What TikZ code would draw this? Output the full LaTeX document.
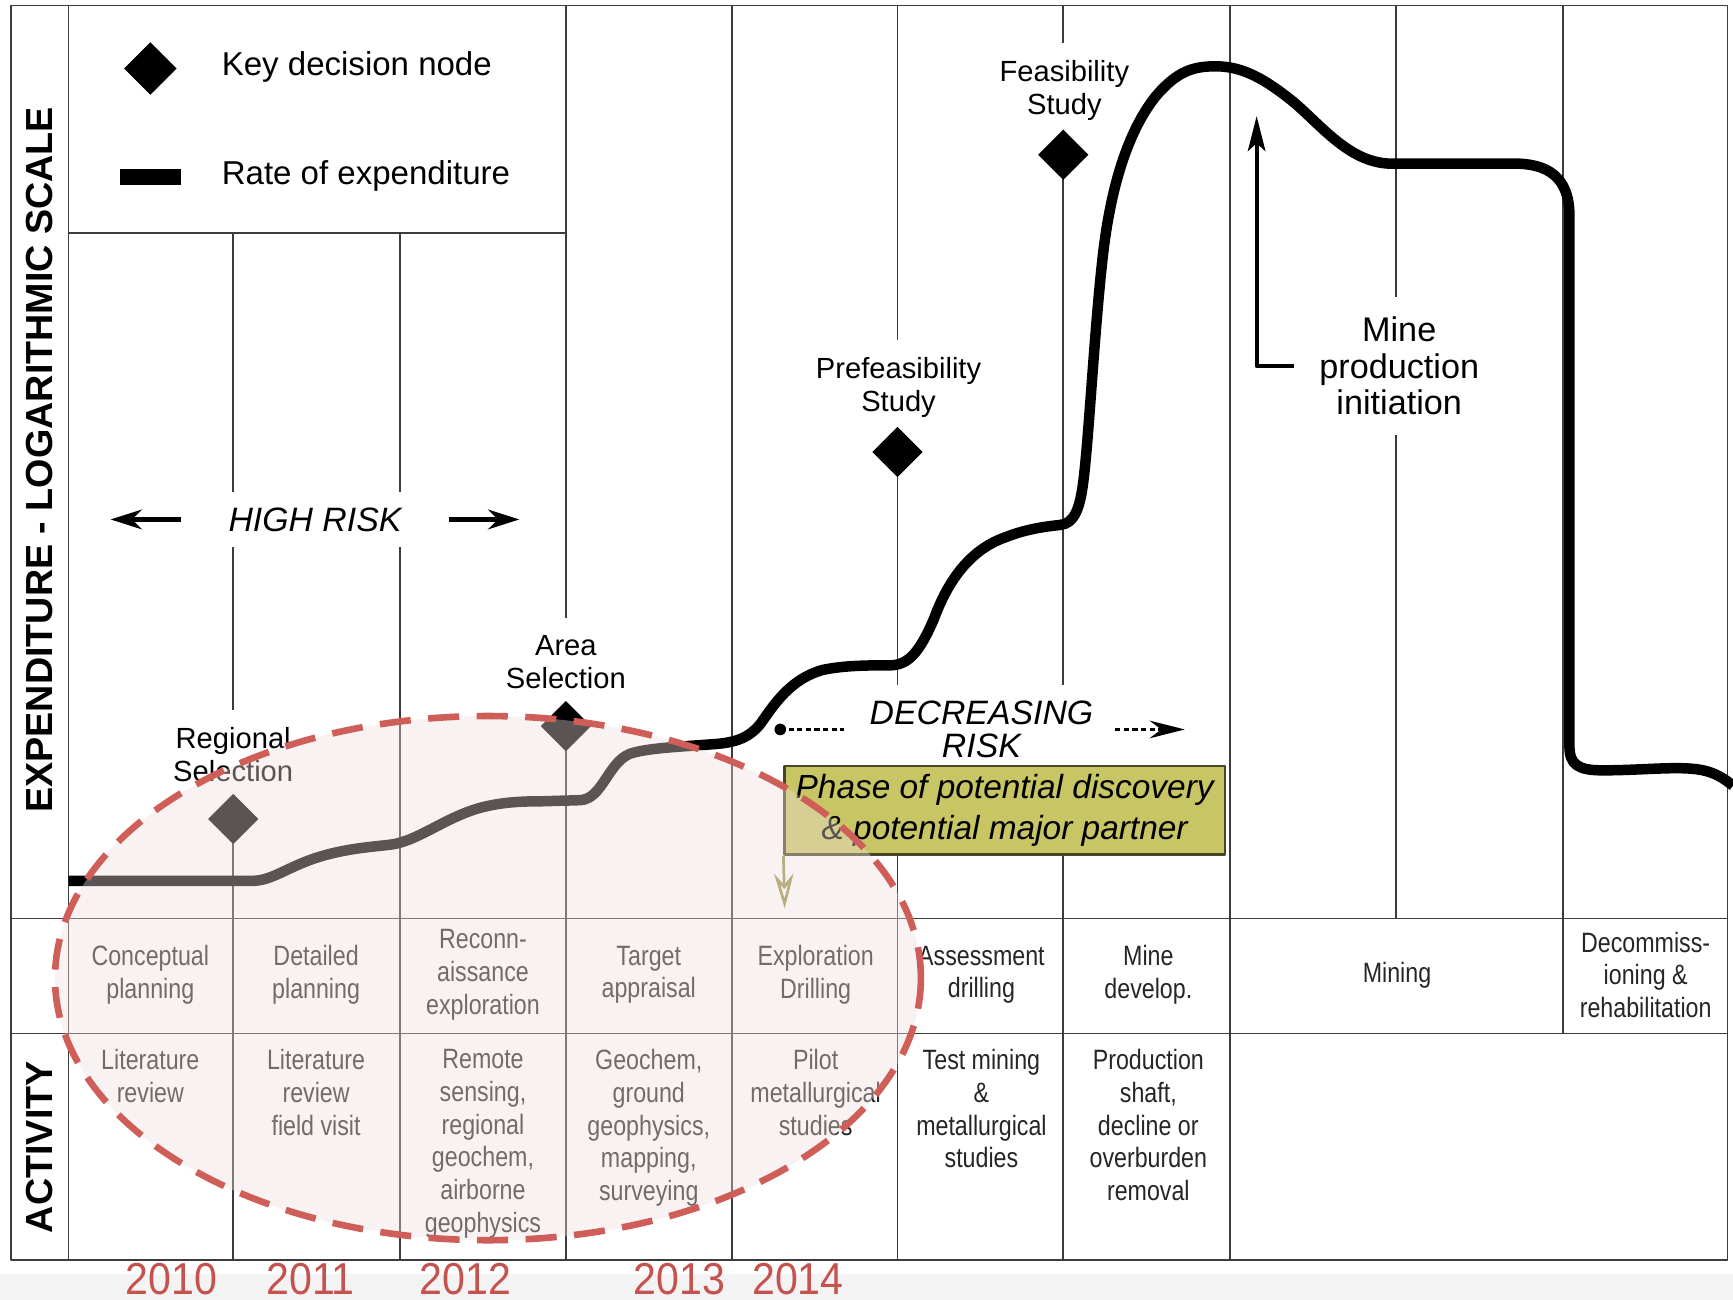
\documentclass[tikz,border=0pt]{standalone}
\usepackage{fontspec}
\setmainfont{Liberation Sans}
\newfontfamily\narrowfont{Liberation Sans}[FakeStretch=0.83]
\newfontfamily\yearfont{Liberation Sans}[FakeStretch=0.92]
\usetikzlibrary{shapes.geometric,arrows.meta}
\definecolor{gridgray}{RGB}{60,60,60}
\definecolor{stripgray}{RGB}{243,243,243}
\definecolor{ovalred}{RGB}{208,94,88}
\definecolor{ovalfill}{RGB}{239,221,221}
\definecolor{yearred}{RGB}{197,82,78}
\definecolor{phaseyellow}{RGB}{199,197,100}
\definecolor{phaseedge}{RGB}{70,70,35}
\begin{document}
\begin{tikzpicture}[x=0.01cm, y=-0.01cm, line join=round,
	grid/.style={gridgray, line width=0.45pt},
	keynode/.style={diamond, fill=black, inner sep=0pt, minimum size=4.6mm},
	milestone/.style={fill=white, align=center, inner xsep=2pt, inner ysep=4.5pt, font=\fontsize{7.5}{8.5}\selectfont},
	cell/.style={align=center, text=black!85, inner sep=2pt, font=\narrowfont\fontsize{7.2}{8.4}\selectfont},
	risk/.style={fill=white, align=center, inner xsep=3pt, inner ysep=4pt, font=\itshape\fontsize{8.7}{8.6}\selectfont},
	riskarrow/.style={line width=1.5pt, -{Stealth[length=8pt,width=5pt,inset=2.5pt]}},
	spend/.style={line width=2.7pt},
	axislabel/.style={rotate=90, font=\bfseries\fontsize{9.7}{10}\selectfont},
	phasebox/.style={draw=phaseedge, fill=phaseyellow, line width=0.6pt, minimum width=3.98cm, minimum height=0.8cm, align=center, inner sep=0pt, font=\itshape\fontsize{8.6}{10.5}\selectfont},
	year/.style={anchor=base, inner sep=0pt, text=yearred, font=\yearfont\fontsize{11.5}{12}\selectfont}]
	\useasboundingbox (0,0) rectangle (1568,1176);
	\fill[white] (0,0) rectangle (1568,1176);
	\fill[stripgray] (0,1153) rectangle (1568,1176);
	% table
	\draw[grid] (10,5) rectangle (1563,1140);
	\draw[grid] (10,831)--(1563,831) (10,935)--(1563,935) (62,211)--(512,211);
	\foreach \x in {211,362} \draw[grid] (\x,211)--(\x,1140);
	\foreach \x in {62,512,662,812,962,1113} \draw[grid] (\x,5)--(\x,1140);
	\draw[grid] (1263,5)--(1263,831) (1414,5)--(1414,935);
	\node[axislabel] (ylab) at (36,416) {EXPENDITURE - LOGARITHMIC SCALE};
	\node[axislabel] (alab) at (36,1038) {ACTIVITY};
	% legend
	\node[keynode, minimum size=4.8mm] (keyd) at (136,62) {};
	\node[anchor=base west, inner sep=0pt, font=\fontsize{8.5}{10}\selectfont] (keyt) at (200,68) {Key decision node};
	\node[fill=black, inner sep=0pt, minimum width=0.55cm, minimum height=0.14cm] (ratebar) at (136,160) {};
	\node[anchor=base west, inner sep=0pt, font=\fontsize{8.5}{10}\selectfont] (ratet) at (200,167) {Rate of expenditure};
	% decision nodes
	\node[milestone] (regl) at (211,683) {Regional\\Selection};
	\node[keynode] (regd) at (211,741) {};
	\node[milestone] (areal) at (512,599) {Area\\Selection};
	\node[keynode] (aread) at (512,657) {};
	\node[milestone] (prefl) at (813,351) {Prefeasibility\\Study};
	\node[keynode] (prefd) at (812,409) {};
	\node[milestone] (feasl) at (963,82) {Feasibility\\Study};
	\node[keynode] (feasd) at (962,140) {};
	% risk
	\node[risk] (hirisk) at (285,470) {HIGH RISK};
	\coordinate (hrleft) at (100,470);
	\coordinate (hrright) at (470,470);
	\draw[riskarrow] ([xshift=-9pt]hirisk.west) -- (hrleft);
	\draw[riskarrow] ([xshift=9pt]hirisk.east) -- (hrright);
	\node[risk] (decrisk) at (888,660) {DECREASING\\RISK};
	\coordinate (decstart) at (706,660);
	\coordinate (decend) at (1072,660);
	\fill (decstart) circle (1.5pt);
	\draw[line width=1pt, dash pattern=on 1.3pt off 0.9pt] (decstart) -- ([xshift=-3.5pt]decrisk.west);
	\draw[line width=1pt, dash pattern=on 1.3pt off 0.9pt, -{Stealth[length=9pt,width=4.5pt]}] ([xshift=2.5pt]decrisk.east) -- (decend);
	% mine production
	\node[fill=white, align=center, inner sep=5pt, font=\fontsize{8.8}{9.5}\selectfont] (mpi) at (1266,331) {Mine\\production\\initiation};
	\coordinate (mpitip) at (1137,105);
	\draw[line width=1.1pt, -{Stealth[length=9pt,width=4.5pt,inset=2pt]}] ([xshift=-1.2pt]mpi.west) -| (mpitip);
	% expenditure
	\draw[spend] (62,797) -- (228,797)
		.. controls (248,797) and (262,782) .. (297,773)
		.. controls (320,767) and (340,766) .. (355,764)
		.. controls (380,760) and (405,738) .. (438,730)
		.. controls (455,726) and (470,725) .. (490,725) -- (525,724)
		.. controls (545,723) and (550,690) .. (570,682)
		.. controls (585,677) and (610,676) .. (650,673)
		.. controls (668,671) and (678,667) .. (688,655)
		.. controls (700,638) and (715,614) .. (745,606)
		.. controls (765,602) and (785,602) .. (805,602)
		.. controls (822,602) and (832,590) .. (845,560)
		.. controls (856,530) and (875,498) .. (910,486)
		.. controls (930,478) and (950,476) .. (959,475)
		.. controls (972,474) and (977,460) .. (980,437)
		.. controls (985,400) and (990,300) .. (998,230)
		.. controls (1005,170) and (1020,120) .. (1045,88)
		.. controls (1065,64) and (1080,60) .. (1100,60)
		.. controls (1125,60) and (1145,72) .. (1170,92)
		.. controls (1195,113) and (1220,146) .. (1256,148) -- (1370,148)
		.. controls (1400,148) and (1420,160) .. (1420,195) -- (1420,675)
		.. controls (1420,692) and (1428,697) .. (1450,697)
		.. controls (1490,697) and (1525,692) .. (1545,698)
		.. controls (1555,701) and (1562,706) .. (1568,711);
	% phase box
	\node[phasebox] (phase) at (909,733) {Phase of potential discovery\\\& potential major partner};
	\coordinate (phasetip) at (710,822);
	\draw[phaseyellow!75!black, line width=0.7pt, -{Stealth[open,length=9pt,width=5pt]}] (phase.south west) -- (phasetip);
	% activity table
	\foreach \x/\t [count=\i] in {136/{Conceptual\\planning}, 286/{Detailed\\planning}, 437/{Reconn-\\aissance\\exploration}, 587/{Target\\appraisal}, 738/{Exploration\\Drilling}, 888/{Assessment\\drilling}, 1039/{Mine\\develop.}, 1264/{Mining}, 1489/{Decommiss-\\ioning \&\\rehabilitation}}
		\node[cell] (ph\i) at (\x,882) {\t};
	\foreach \x/\t [count=\i] in {136/{Literature\\review}, 286/{Literature\\review\\field visit}, 437/{Remote\\sensing,\\regional\\geochem,\\airborne\\geophysics}, 587/{Geochem,\\ground\\geophysics,\\mapping,\\surveying}, 738/{Pilot\\metallurgical\\studies}, 888/{Test mining\\\&\\metallurgical\\studies}, 1039/{Production\\shaft,\\decline or\\overburden\\removal}}
		\node[cell, anchor=north] (act\i) at (\x,942) {\t};
	% highlighted years
	\fill[ovalfill, fill opacity=0.38] (441.5,885) ellipse [x radius=3.915cm, y radius=2.37cm];
	\draw[ovalred, line width=1.7pt, dash pattern=on 8pt off 4.5pt] (441.5,885) ellipse [x radius=3.915cm, y radius=2.37cm];
	\foreach \x/\yr in {155/2010, 281/2011, 421/2012, 615/2013, 722/2014}
		\node[year] (y\yr) at (\x,1171) {\yr};
\end{tikzpicture}
\end{document}
